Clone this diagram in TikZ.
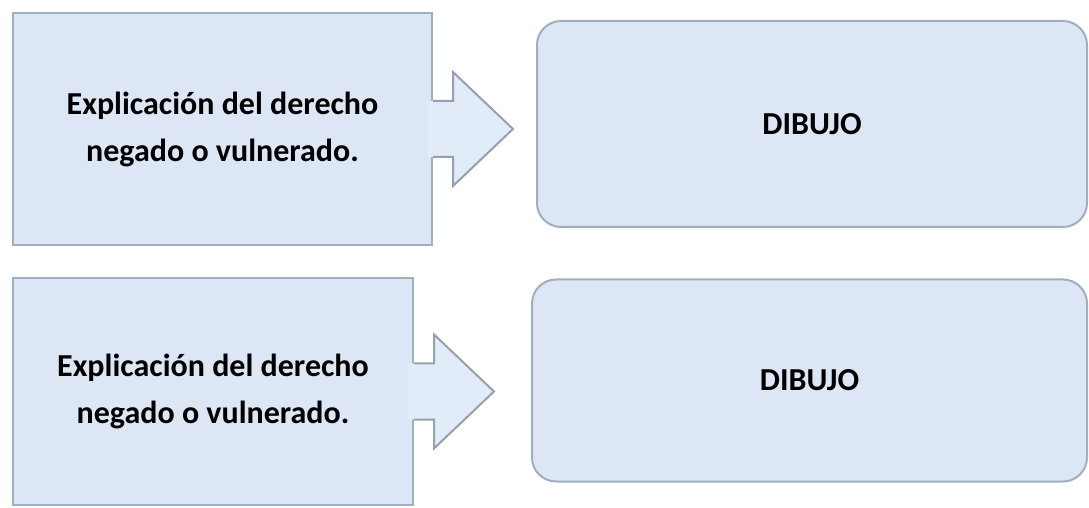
\documentclass[tikz,border=0pt]{standalone}
\usepackage{fontspec}
\setmainfont{Carlito}
\usetikzlibrary{calc,positioning}

\definecolor{relleno}{RGB}{220,230,244}
\definecolor{borde}{RGB}{160,174,192}
\definecolor{rellenoflecha}{RGB}{225,236,248}
\definecolor{bordeflecha}{RGB}{150,160,176}

\begin{document}
\begin{tikzpicture}[x=0.5pt,y=-0.5pt,line width=1pt]
\tikzstyle{caja}=[draw=borde,fill=relleno,text=black,inner sep=0pt,
  font=\fontsize{16}{23.5}\selectfont\bfseries,align=center]
\tikzstyle{redonda}=[caja,rounded corners=12pt]
\tikzstyle{flecha}=[draw=bordeflecha,line join=miter]
\useasboundingbox (0,0) rectangle (1089,508);
% cajas de la izquierda
\node[caja,minimum width=209.5pt,minimum height=116pt] (E1) at (222.5,129) {Explicación del derecho\\negado o vulnerado.};
\node[caja,minimum width=200pt,minimum height=113.5pt] (E2) at (213,391.5) {Explicación del derecho\\negado o vulnerado.};
% cajas de la derecha
\node[redonda,minimum width=275pt,minimum height=103pt] (D1) at (812,124) {DIBUJO};
\node[redonda,minimum width=277.5pt,minimum height=101pt] (D2) at (809.5,380.5) {DIBUJO};
% flechas
\foreach \n in {E1,E2}{
  \fill[rellenoflecha] ($(\n.east)+(-6,-28)$) -- ($(\n.east)+(20,-28)$) -- ($(\n.east)+(20,-57)$)
    -- ($(\n.east)+(80,0)$) -- ($(\n.east)+(20,57)$) -- ($(\n.east)+(20,28)$) -- ($(\n.east)+(-6,28)$) -- cycle;
  \draw[flecha] ($(\n.east)+(0,-28)$) -- ($(\n.east)+(20,-28)$) -- ($(\n.east)+(20,-57)$)
    -- ($(\n.east)+(80,0)$) -- ($(\n.east)+(20,57)$) -- ($(\n.east)+(20,28)$) -- ($(\n.east)+(0,28)$);
}
\end{tikzpicture}
\end{document}
